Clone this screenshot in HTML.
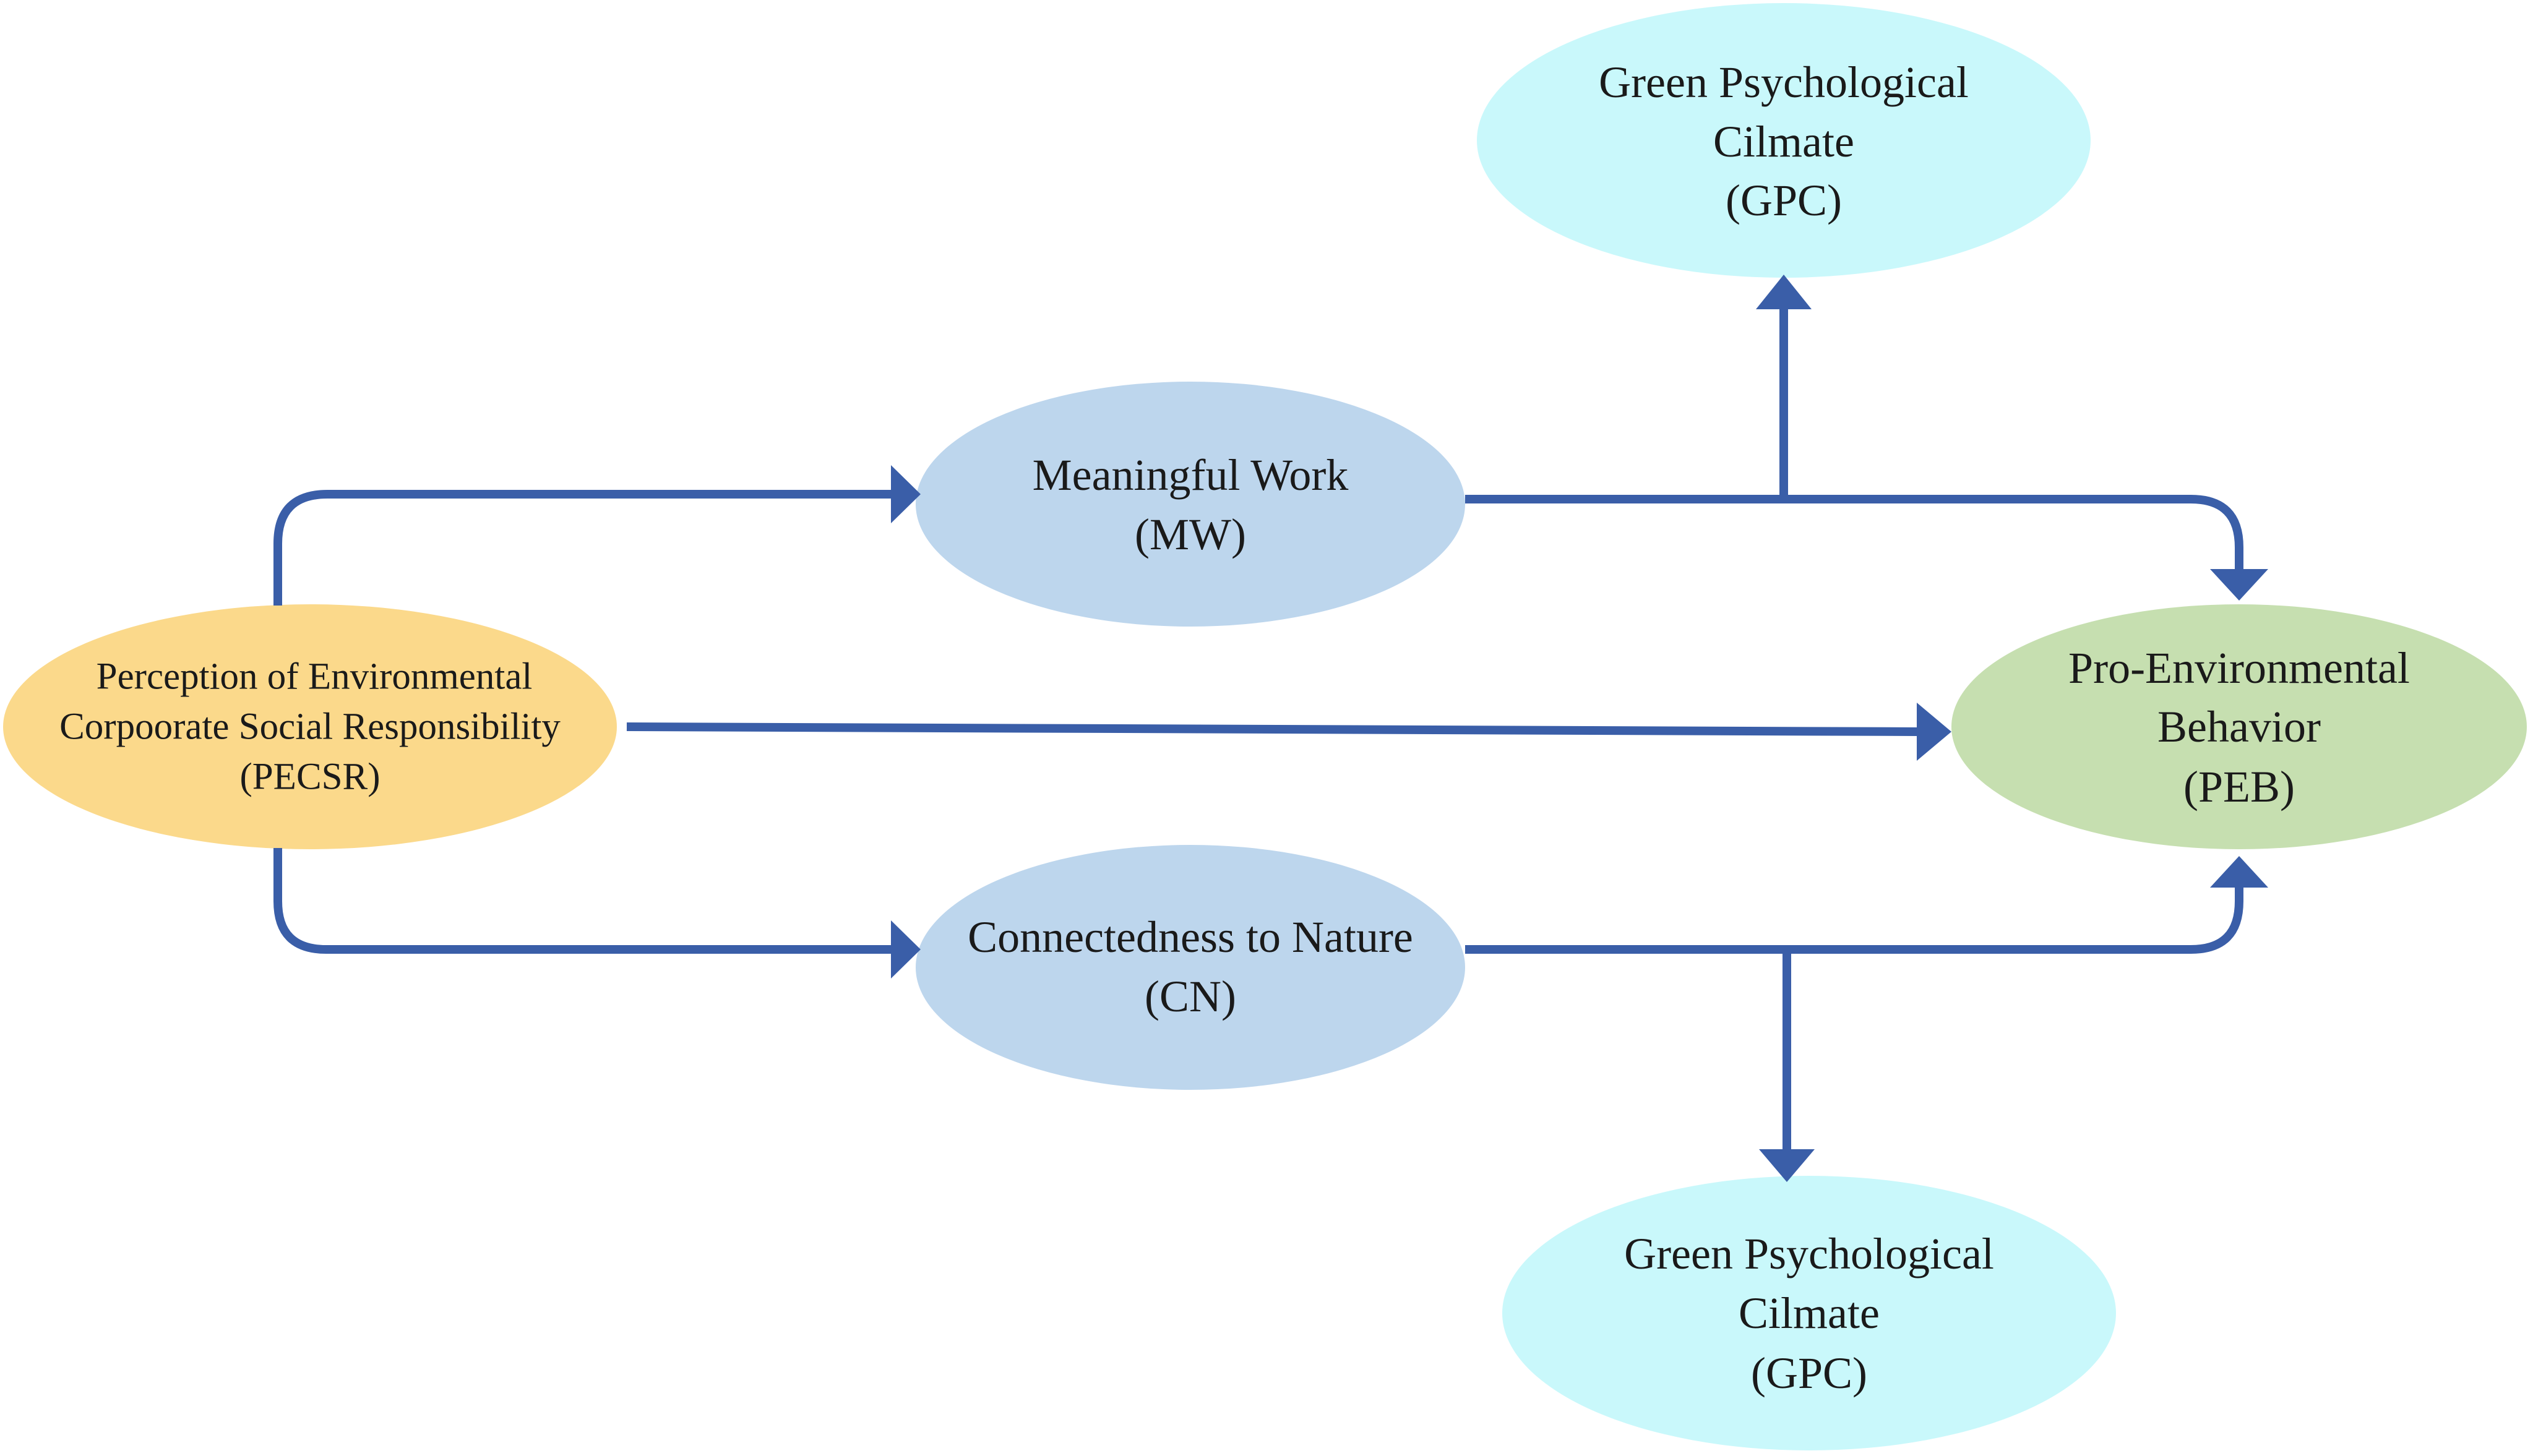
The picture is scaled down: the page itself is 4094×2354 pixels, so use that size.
<!DOCTYPE html>
<html><head><meta charset="utf-8"><style>
html,body{margin:0;padding:0;background:#fff;}
svg{display:block;}
text{font-family:"Liberation Serif",serif;fill:#1a1a1a;text-anchor:middle;dominant-baseline:central;}
</style></head><body>
<svg width="4094" height="2354" viewBox="0 0 4094 2354" xmlns="http://www.w3.org/2000/svg">
<g stroke="none">
<ellipse cx="2883" cy="227" rx="496" ry="222" fill="#c9f8fb"/>
<ellipse cx="1924" cy="815" rx="444" ry="198" fill="#bdd6ed"/>
<ellipse cx="501" cy="1175" rx="496" ry="198" fill="#fbd98b"/>
<ellipse cx="3619" cy="1175" rx="465" ry="198" fill="#c6dfb0"/>
<ellipse cx="1924" cy="1564" rx="444" ry="198" fill="#bdd6ed"/>
<ellipse cx="2924" cy="2123" rx="496" ry="222" fill="#c9f8fb"/>
</g>
<g fill="none" stroke="#3a5ea8" stroke-width="14" stroke-linejoin="round">
<path d="M449 979 L449 879 Q449 799 529 799 L1450 799"/>
<path d="M2368 807 L3541 807 Q3619 807 3619 885 L3619 925"/>
<path d="M2883 807 L2883 500"/>
<path d="M1013 1175 L3100 1183"/>
<path d="M449 1371 L449 1457 Q449 1535 527 1535 L1450 1535"/>
<path d="M2368 1535 L3541 1535 Q3619 1535 3619 1457 L3619 1430"/>
<path d="M2888 1535 L2888 1860"/>
</g>
<g fill="#3a5ea8">
<polygon points="1440,752 1488,799 1440,846"/>
<polygon points="3572,920 3666,920 3619,971"/>
<polygon points="2838,500 2928,500 2883,444"/>
<polygon points="3098,1136 3154,1183 3098,1230"/>
<polygon points="1440,1488 1488,1535 1440,1582"/>
<polygon points="3572,1435 3666,1435 3619,1384"/>
<polygon points="2843,1858 2933,1858 2888,1911"/>
</g>
<g font-size="72">
<text x="2883" y="133">Green Psychological</text>
<text x="2883" y="229">Cilmate</text>
<text x="2883" y="324">(GPC)</text>
<text x="1924" y="768">Meaningful Work</text>
<text x="1924" y="864">(MW)</text>
<text x="3619" y="1080">Pro-Environmental</text>
<text x="3619" y="1175">Behavior</text>
<text x="3619" y="1272">(PEB)</text>
<text x="1924" y="1515">Connectedness to Nature</text>
<text x="1924" y="1611">(CN)</text>
<text x="2924" y="2027">Green Psychological</text>
<text x="2924" y="2123">Cilmate</text>
<text x="2924" y="2220">(GPC)</text>
</g>
<g font-size="61">
<text x="508" y="1094">Perception of Environmental</text>
<text x="501" y="1175">Corpoorate Social Responsibility</text>
<text x="501" y="1256">(PECSR)</text>
</g>
</svg>
</body></html>
